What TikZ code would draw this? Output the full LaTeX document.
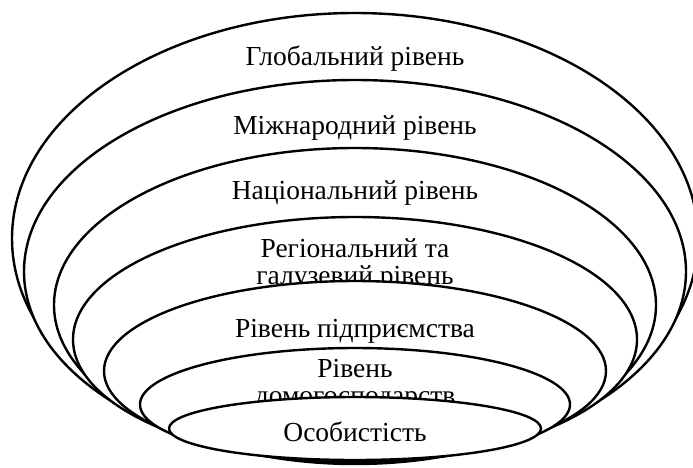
\documentclass[tikz,border=0pt]{standalone}
\usepackage{fontspec}
\setmainfont{Liberation Serif}
\begin{document}
\begin{tikzpicture}[x=1pt,y=-1pt,
  level/.style={draw=black, line width=2.4pt, fill=white},
  lbl/.style={font=\fontsize{27.5}{27.5}\selectfont, inner sep=0pt, anchor=base}]
\useasboundingbox (0,0) rectangle (693,467);
% nested levels, drawn from the outermost inwards; each fill hides what lies below
\path[level] (355,238.5) ellipse [x radius=343pt, y radius=225.5pt];
\node[lbl] (global) at (355,65) {Глобальний рівень};
\path[level] (355,271.5) ellipse [x radius=331pt, y radius=191.5pt];
\node[lbl] (intl) at (355,134) {Міжнародний рівень};
\path[level] (355,305) ellipse [x radius=301pt, y radius=157pt];
\node[lbl] (natl) at (355,199) {Національний рівень};
\path[level] (355,339.5) ellipse [x radius=282pt, y radius=122.5pt];
\node[lbl] (rega) at (355,257) {Регіональний та};
\node[lbl] (regb) at (355,284) {галузевий рівень};
\path[level] (355,371) ellipse [x radius=251pt, y radius=90pt];
\node[lbl] (firm) at (355,337) {Рівень підприємства};
\path[level] (355,404.5) ellipse [x radius=215pt, y radius=56.5pt];
\node[lbl] (housea) at (355,377) {Рівень};
\node[lbl] (houseb) at (355,404) {домогосподарств};
\path[level] (355,428.5) ellipse [x radius=186pt, y radius=31.5pt];
\node[lbl] (person) at (355,441) {Особистість};
\end{tikzpicture}
\end{document}
